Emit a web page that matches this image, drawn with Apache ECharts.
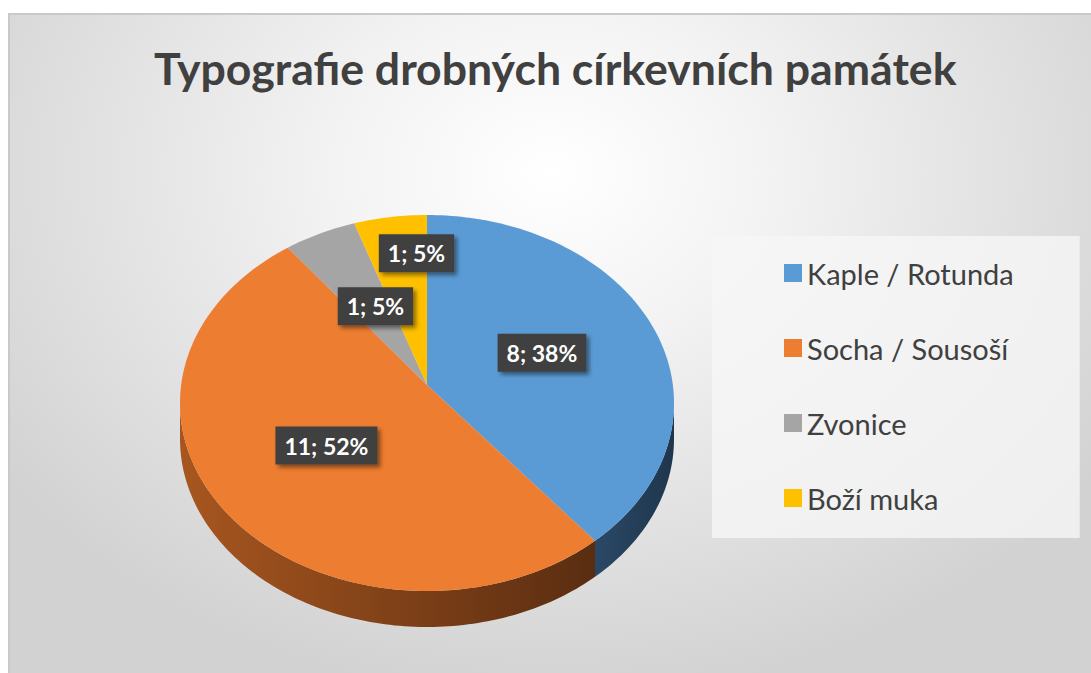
<!DOCTYPE html>
<html>
<head>
<meta charset="utf-8">
<script src="https://cdn.jsdelivr.net/npm/echarts@6/dist/echarts.min.js"></script>
<style>
  html, body { margin: 0; padding: 0; background: #fff; }
  .frame {
    position: absolute; left: 8px; top: 13px; width: 1083px; height: 660px;
    border-top: 2px solid #c9c9c9; border-left: 2px solid #c9c9c9; box-sizing: border-box;
    background: radial-gradient(ellipse 62% 80% at 50% 24%, #ffffff 0%, #f3f3f3 32%, #d2d2d2 100%);
  }
  #chart { position: absolute; left: 0; top: 0; width: 1091px; height: 673px; }
</style>
</head>
<body>
<div class="frame"></div>
<div id="chart"></div>
<script>
const titleText = 'Typografie drobných církevních památek'
const categories = ['Kaple / Rotunda', 'Socha / Sousoší', 'Zvonice', 'Boží muka']
const counts = [8, 11, 1, 1]
const colors = ['#5b9bd5', '#ed7d31', '#a5a5a5', '#ffc000']
const sideColors = [['#2a4866', '#1f364d'], ['#a8561f', '#5a2d11'], ['#6e6e6e', '#4a4a4a'], ['#a67c00', '#6e5200']]
const total = counts.reduce((a, b) => a + b, 0)

// tilted disc layout
const cx = 427, cy = 403, rx = 247, ry = 188, depth = 36, apexShift = 18
const labelRadius = [0.5, 0.5, 0.5, 0.72]
const labelShift = [[0, 2], [-4, 2], [2, 6], [16, 2]]
const font = 'Lato'

function pt(a, dy) {
  return [cx + rx * Math.sin(a), cy + dy - ry * Math.cos(a)]
}

function arc(a1, a2, dy) {
  const pts = []
  const n = Math.max(2, Math.ceil((a2 - a1) / 0.02))
  for (let k = 0; k <= n; k++) pts.push(pt(a1 + (a2 - a1) * k / n, dy))
  return pts
}

function renderSlice(params, api) {
  const i = params.seriesIndex
  const value = api.value(0)
  const before = counts.slice(0, i).reduce((a, b) => a + b, 0)
  const a1 = before / total * Math.PI * 2
  const a2 = (before + value) / total * Math.PI * 2
  const children = []

  // visible front wall
  const s1 = Math.max(a1, Math.PI / 2), s2 = Math.min(a2, Math.PI * 1.5)
  if (s2 > s1) {
    const top = arc(s1, s2, 0)
    const bottom = arc(s1, s2, depth).reverse()
    children.push({
      type: 'polygon',
      shape: { points: top.concat(bottom) },
      style: {
        fill: new echarts.graphic.LinearGradient(0, 0, 1, 0, [
          { offset: 0, color: sideColors[i][0] },
          { offset: 1, color: sideColors[i][1] }
        ])
      }
    })
  }

  // top face
  const apex = [cx, cy - apexShift]
  children.push({
    type: 'polygon',
    shape: { points: [apex].concat(arc(a1, a2, 0)) },
    style: { fill: colors[i] }
  })

  // data label
  const mid = (a1 + a2) / 2
  const f = labelRadius[i]
  children.push({
    type: 'text',
    z2: 100,
    x: cx + f * rx * Math.sin(mid) + labelShift[i][0],
    y: apex[1] - f * ry * Math.cos(mid) + labelShift[i][1],
    style: {
      text: value + '; ' + Math.round(value / total * 100) + '%',
      fill: '#fff',
      fontFamily: font,
      fontWeight: 'bold',
      fontSize: 23,
      align: 'center',
      verticalAlign: 'middle',
      backgroundColor: '#404040',
      padding: [8, 9, 7, 9],
      shadowBlur: 4,
      shadowOffsetX: 3,
      shadowOffsetY: 3,
      shadowColor: 'rgba(0,0,0,0.45)'
    }
  })

  return { type: 'group', children }
}

const chart = echarts.init(document.getElementById('chart'), null, { renderer: 'svg' })

chart.setOption({
  animation: false,
  color: colors,
  title: {
    text: titleText,
    left: 154,
    top: 45,
    padding: 0,
    textStyle: { fontFamily: font, fontWeight: 'bold', fontSize: 44.6, color: '#404040' }
  },
  legend: {
    orient: 'vertical',
    left: 712,
    top: 236,
    padding: [22, 66, 25, 72],
    itemGap: 45,
    itemWidth: 18,
    itemHeight: 18,
    icon: 'rect',
    backgroundColor: 'rgba(246,246,246,0.8)',
    data: categories,
    textStyle: { fontFamily: font, fontSize: 29, color: '#404040', lineHeight: 30 }
  },
  series: categories.map((name, i) => ({
    type: 'custom',
    name,
    coordinateSystem: 'none',
    renderItem: renderSlice,
    itemStyle: { color: colors[i] },
    data: [[counts[i]]]
  }))
})
</script>
</body>
</html>
